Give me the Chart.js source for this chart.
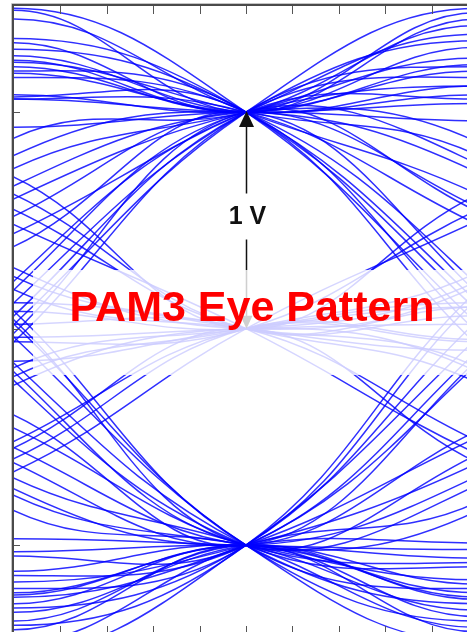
<!DOCTYPE html>
<html>
<head>
<meta charset="utf-8">
<script src="https://cdn.jsdelivr.net/npm/chart.js@4.4.1/dist/chart.umd.min.js"></script>
<style>
  html, body { margin: 0; padding: 0; background: #fff; overflow: hidden; }
  #wrap { position: absolute; left: 0; top: 0; }
</style>
</head>
<body>
<div id="wrap"><canvas id="eyeChart" width="490" height="640"></canvas></div>
<script>
// times (in UI) of the five values given for every trace:
// previous symbol, left edge, current symbol, right edge, next symbol
const sampleTimes = [-1, -0.5, 0, 0.5, 1];

// traces through the +1 V level  [prev, leftEdge, level, rightEdge, next]  (volts)
const tracesUpper = [
  [1, 1.47, 1, 1.43, 1],
  [1, 1.32, 1, 1.46, 1],
  [1, 1.24, 1, 1.30, 1],
  [1, 1.21, 1, 1.22, 1],
  [1, 1.26, 1, 1.12, 1],
  [1, 1.18, 1, 1.08, 1],
  [1, 1.08, 1, 1.19, 1],
  [1, 1.06, 1, 1.04, 1],
  [1, 0.93, 1, 0.96, 1],
  [1, 1.43, 1, 0.62, 0],
  [1, 1.23, 1, 0.80, 0],
  [1, 1.06, 1, 0.48, 0],
  [1, 1.48, 1, 0.02, -1],
  [1, 1.29, 1, 0.12, -1],
  [1, 1.19, 1, -0.08, -1],
  [1, 1.16, 1, 0.20, -1],
  [1, 1.07, 1, -0.02, -1],
  [1, 1.34, 1, 0.08, -1],
  [0, 0.88, 1, 1.40, 1],
  [0, 0.74, 1, 1.25, 1],
  [0, 0.60, 1, 1.12, 1],
  [0, 0.44, 1, 1.36, 1],
  [0, 0.80, 1, 0.72, 0],
  [0, 0.52, 1, 0.56, 0],
  [0, 0.66, 1, 0.86, 0],
  [0, 0.38, 1, 0.16, -1],
  [-1, 0.02, 1, 1.48, 1],
  [-1, 0.12, 1, 1.33, 1],
  [-1, -0.06, 1, 1.21, 1],
  [-1, 0.22, 1, 1.06, 1],
  [-1, 0.06, 1, 1.16, 1],
  [-1, 0.18, 1, 0.76, 0],
  [-1, -0.02, 1, 0.54, 0]
];

// traces through the 0 V level
const tracesMiddle = [
  [1, 0.28, 0, 0.20, 1],
  [1, 0.18, 0, -0.10, 0],
  [1, 0.24, 0, -0.25, -1],
  [1, 0.55, 0, 0.06, 0],
  [1, 0.62, 0, 0.10, 0],
  [1, 0.48, 0, -0.58, -1],
  [1, 0.70, 0, 0.62, 1],
  [0, 0.08, 0, 0.22, 1],
  [0, -0.04, 0, 0.02, 0],
  [0, 0.12, 0, -0.18, -1],
  [0, -0.15, 0, 0.10, 0],
  [-1, -0.26, 0, -0.20, -1],
  [-1, -0.18, 0, 0.12, 0],
  [-1, -0.22, 0, 0.26, 1],
  [-1, -0.52, 0, -0.06, 0],
  [-1, -0.60, 0, -0.05, 0],
  [-1, -0.66, 0, 0.50, 1],
  [-1, -0.55, 0, -0.62, -1],
  [0, 0.02, 0, -0.52, -1],
  [0, -0.06, 0, 0.55, 1]
];

// traces through the -1 V level
const tracesLower = [
  [-1, -0.97, -1, -1.02, -1],
  [-1, -1.03, -1, -1.06, -1],
  [-1, -1.22, -1, -1.18, -1],
  [-1, -1.23, -1, -1.24, -1],
  [-1, -1.27, -1, -1.33, -1],
  [-1, -1.35, -1, -1.25, -1],
  [-1, -1.39, -1, -1.40, -1],
  [-1, -1.12, -1, -1.22, -1],
  [-1, -1.31, -1, -0.99, -1],
  [-1, -1.17, -1, -0.62, 0],
  [-1, -1.45, -1, -0.80, 0],
  [-1, -1.24, -1, -0.50, 0],
  [-1, -1.29, -1, 0.04, 1],
  [-1, -1.05, -1, -0.10, 1],
  [-1, -1.20, -1, 0.14, 1],
  [-1, -1.50, -1, -0.04, 1],
  [-1, -1.37, -1, 0.18, 1],
  [-1, -1.14, -1, -0.16, 1],
  [0, -0.69, -1, -1.38, -1],
  [0, -0.77, -1, -1.16, -1],
  [0, -0.84, -1, -1.30, -1],
  [0, -0.46, -1, -1.08, -1],
  [0, -0.74, -1, -0.68, 0],
  [0, -0.55, -1, -0.84, 0],
  [0, -0.62, -1, -0.47, 0],
  [0, -0.40, -1, -0.14, 1],
  [1, -0.04, -1, -1.45, -1],
  [1, -0.16, -1, -1.27, -1],
  [1, 0.08, -1, -1.20, -1],
  [1, -0.24, -1, -1.10, -1],
  [1, 0.02, -1, -1.35, -1],
  [1, -0.20, -1, -0.72, 0],
  [1, 0.04, -1, -0.58, 0]
];

const timeTicks = [-0.4, -0.3, -0.2, -0.1, 0, 0.1, 0.2, 0.3, 0.4];
const levelTicks = [1, 0, -1];
const swingFrom = 0;
const swingTo = 1;
const swingLabel = '1 V';
const titleText = 'PAM3 Eye Pattern';

const traceColor = 'rgba(0, 0, 255, 0.82)';

function toDataset(row) {
  return {
    data: row.map((v, i) => ({ x: sampleTimes[i], y: v })),
    borderColor: traceColor,
    borderWidth: 1.5,
    pointRadius: 0,
    tension: 0.4,
    clip: 0
  };
}

const datasets = [...tracesUpper, ...tracesMiddle, ...tracesLower].map(toDataset);

// arrow, caption box and the scope frame with inward ticks
const overlayPlugin = {
  id: 'eyeOverlay',
  afterDatasetsDraw(chart) {
    const ctx = chart.ctx;
    const area = chart.chartArea;
    const xs = chart.scales.x;
    const ys = chart.scales.y;

    const xa = Math.round(xs.getPixelForValue(0)) + 0.5;
    const yTop = ys.getPixelForValue(swingTo);
    const yBot = ys.getPixelForValue(swingFrom);
    const yLabel = (yTop + yBot) / 2 - 4;

    ctx.save();
    ctx.strokeStyle = '#111';
    ctx.fillStyle = '#111';
    ctx.lineWidth = 1.5;
    ctx.beginPath();
    ctx.moveTo(xa, yTop + 12);
    ctx.lineTo(xa, yLabel - 23);
    ctx.moveTo(xa, yLabel + 23);
    ctx.lineTo(xa, yBot - 10);
    ctx.stroke();
    // arrow heads
    ctx.beginPath();
    ctx.moveTo(xa, yTop - 1);
    ctx.lineTo(xa - 7.5, yTop + 15);
    ctx.lineTo(xa + 7.5, yTop + 15);
    ctx.closePath();
    ctx.fill();
    ctx.beginPath();
    ctx.moveTo(xa, yBot);
    ctx.lineTo(xa - 6, yBot - 13);
    ctx.lineTo(xa + 6, yBot - 13);
    ctx.closePath();
    ctx.fill();

    ctx.font = 'bold 25px "Liberation Sans", Arial, sans-serif';
    ctx.textAlign = 'center';
    ctx.textBaseline = 'middle';
    ctx.fillText(swingLabel, xa + 1, yLabel + 1);

    // caption box
    ctx.fillStyle = 'rgba(255, 255, 255, 0.8)';
    ctx.fillRect(area.left + 19, 270, chart.width, 105);
    ctx.fillStyle = '#ff0000';
    ctx.font = 'bold 43px "Liberation Sans", Arial, sans-serif';
    ctx.textBaseline = 'alphabetic';
    ctx.fillText(titleText, 252, 321);

    // frame
    ctx.lineWidth = 1;
    ctx.strokeStyle = '#c4c4c4';
    ctx.beginPath();
    ctx.moveTo(area.left - 2.5, area.bottom + 5);
    ctx.lineTo(area.left - 2.5, area.top - 2.5);
    ctx.lineTo(area.right + 5, area.top - 2.5);
    ctx.stroke();
    ctx.lineWidth = 2;
    ctx.strokeStyle = '#4a4a4a';
    ctx.beginPath();
    ctx.moveTo(area.left - 1, area.bottom + 5);
    ctx.lineTo(area.left - 1, area.top - 1);
    ctx.lineTo(area.right + 5, area.top - 1);
    ctx.stroke();

    // inward ticks
    ctx.lineWidth = 1;
    ctx.strokeStyle = '#555';
    ctx.beginPath();
    timeTicks.forEach(t => {
      const x = Math.round(xs.getPixelForValue(t)) + 0.5;
      ctx.moveTo(x, area.top);
      ctx.lineTo(x, area.top + 8);
      ctx.moveTo(x, area.bottom);
      ctx.lineTo(x, area.bottom - 8);
    });
    levelTicks.forEach(v => {
      const y = Math.round(ys.getPixelForValue(v)) + 0.5;
      ctx.moveTo(area.left, y);
      ctx.lineTo(area.left + 6, y);
    });
    ctx.stroke();
    ctx.restore();
  }
};

new Chart(document.getElementById('eyeChart'), {
  type: 'line',
  data: { datasets },
  options: {
    responsive: false,
    animation: false,
    layout: { padding: { left: 14, top: 6, right: 12, bottom: 6 } },
    elements: { line: { capBezierPoints: false } },
    scales: {
      x: { type: 'linear', min: -0.5, max: 0.5, display: false },
      y: { type: 'linear', min: -1.41, max: 1.49, display: false }
    },
    plugins: { legend: { display: false }, tooltip: { enabled: false } }
  },
  plugins: [overlayPlugin]
});
</script>
</body>
</html>
